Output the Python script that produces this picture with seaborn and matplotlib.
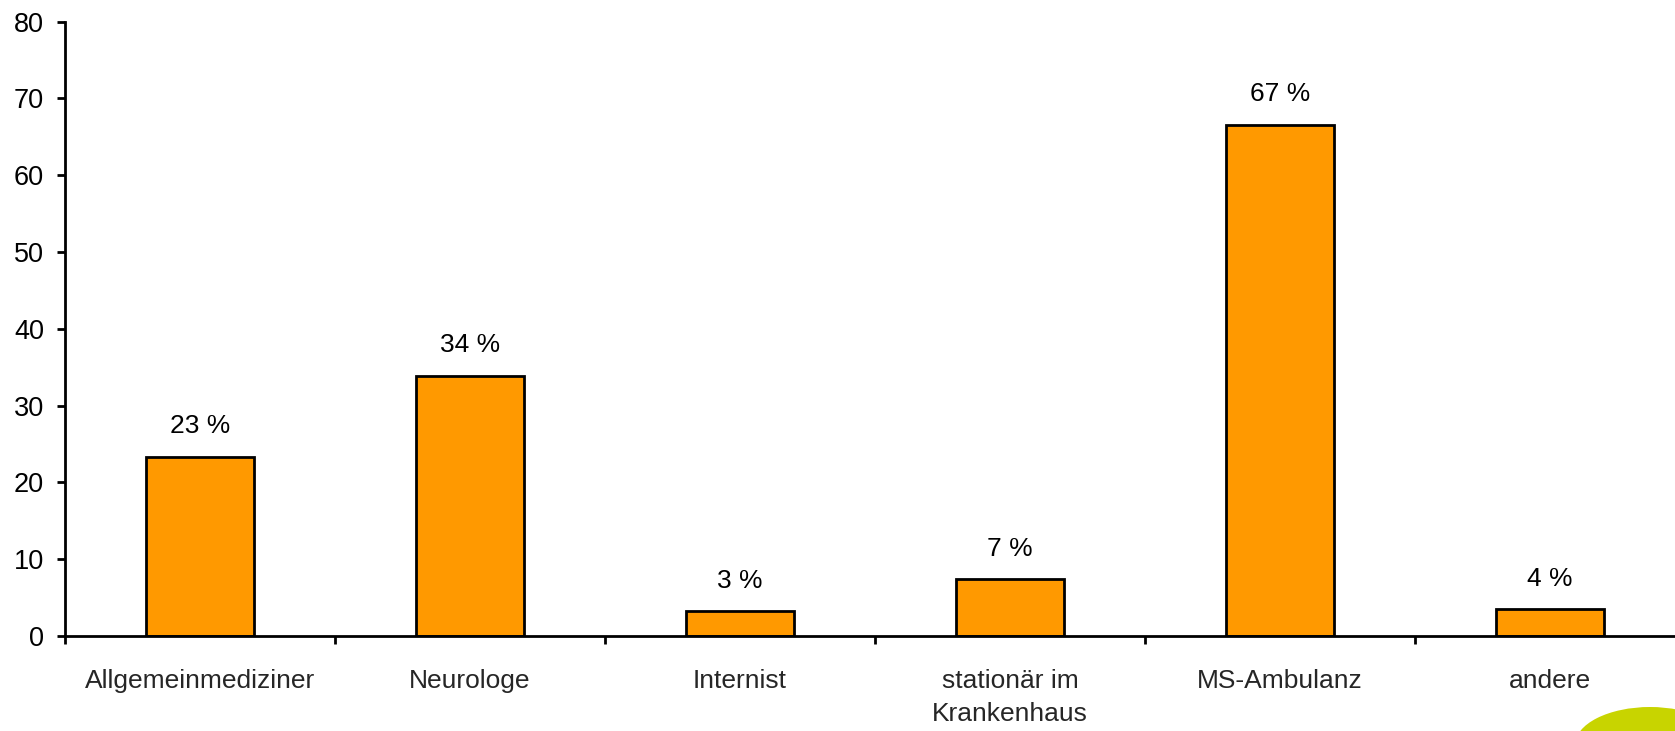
import matplotlib
matplotlib.use("Agg")
import matplotlib.pyplot as plt
from matplotlib.patches import Ellipse
import seaborn as sns
import pandas as pd
import numpy as np

categories = ["Allgemeinmediziner", "Neurologe", "Internist",
              "stationär im\nKrankenhaus", "MS-Ambulanz", "andere"]
values = [23.3, 33.9, 3.2, 7.4, 66.6, 3.5]
value_labels = ["23 %", "34 %", "3 %", "7 %", "67 %", "4 %"]
yticks = [0, 10, 20, 30, 40, 50, 60, 70, 80]

sns.set_style("ticks")
plt.rcParams["font.family"] = ["Liberation Sans", "DejaVu Sans"]

W, H = 1675, 731
fig = plt.figure(figsize=(W / 100, H / 100), dpi=100)
left, right, bottom, top = 65, 1685, 636, 21.7
ax = fig.add_axes([left / W, (H - bottom) / H, (right - left) / W, (bottom - top) / H])

df = pd.DataFrame({"cat": categories, "val": values})
sns.barplot(data=df, x="cat", y="val", color="#FF9900", saturation=1,
            edgecolor="black", linewidth=2.0, width=0.4, ax=ax)

ax.set_xlim(-0.5, len(categories) - 0.5)
ax.set_ylim(0, 80)
ax.set_yticks(yticks)
ax.set_xlabel("")
ax.set_ylabel("")

for sp in ["top", "right"]:
    ax.spines[sp].set_visible(False)
for sp in ["left", "bottom"]:
    ax.spines[sp].set_linewidth(2.0)
    ax.spines[sp].set_color("black")

ax.tick_params(axis="y", length=6, width=2.0, pad=9, labelsize=19.5, colors="black")
ax.tick_params(axis="x", which="major", length=0, pad=24, labelsize=19)
ax.set_xticks(np.arange(-0.5, len(categories) + 0.5, 1), minor=True)
ax.tick_params(axis="x", which="minor", length=6, width=2.0, color="black")
for lab in ax.get_xticklabels():
    lab.set_linespacing(1.45)

for i, (v, t) in enumerate(zip(values, value_labels)):
    ax.annotate(t, (i, v), xytext=(0, 17), textcoords="offset points",
                ha="center", va="baseline", fontsize=19, color="black")

fig.patches.append(Ellipse((1650 / W, -14 / H), 150 / W, 76 / H,
                           transform=fig.transFigure, facecolor="#C8D400",
                           edgecolor="none", clip_on=False))

fig.savefig("out.png", dpi=100)
